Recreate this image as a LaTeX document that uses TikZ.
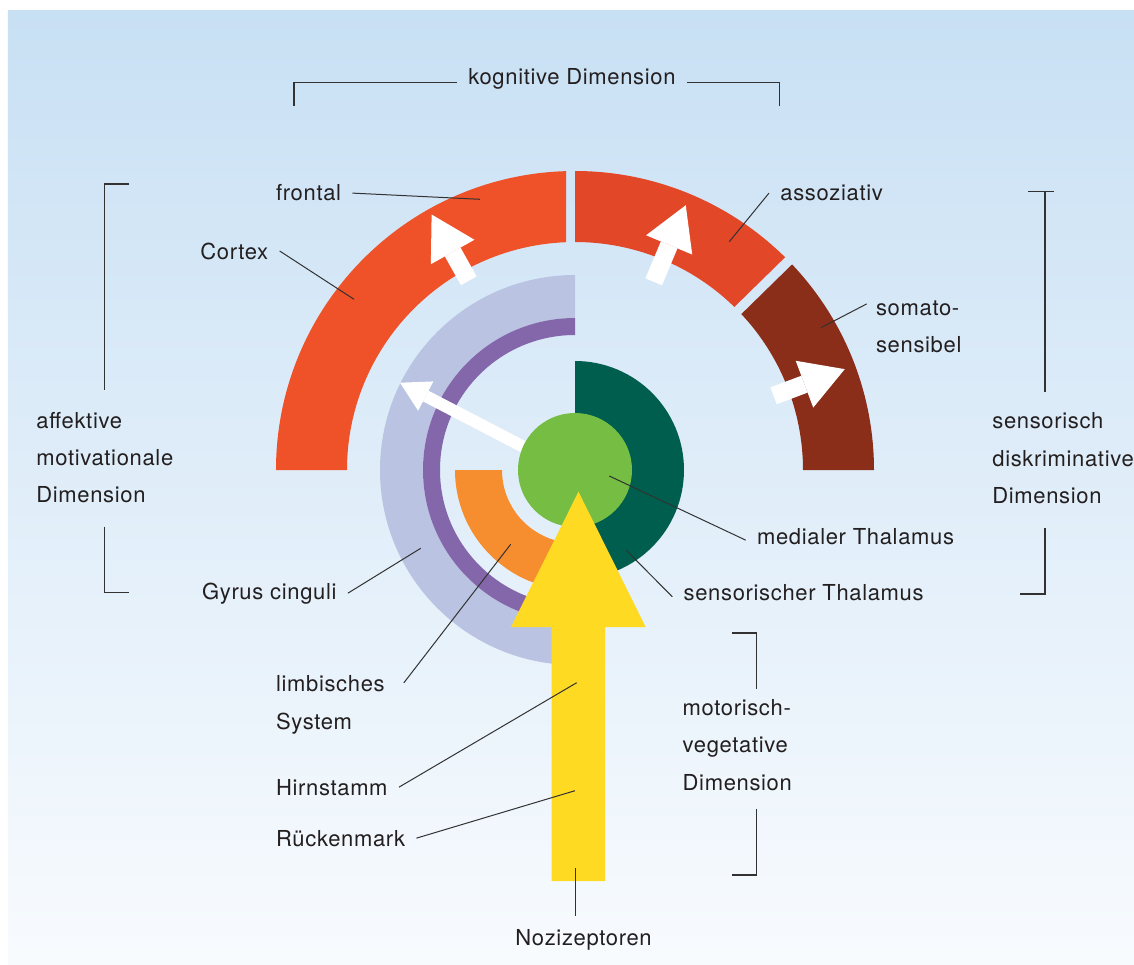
\documentclass[tikz,border=0pt]{standalone}
\usepackage{fontspec}
\setmainfont[LetterSpace=3]{TeX Gyre Heros}
\usetikzlibrary{arrows.meta}
\usetikzlibrary{calc}

\definecolor{bgtop}{RGB}{200,224,244}
\definecolor{bgbot}{RGB}{248,251,254}
\definecolor{frontred}{RGB}{239,81,40}
\definecolor{assored}{RGB}{226,71,39}
\definecolor{somabrown}{RGB}{139,46,25}
\definecolor{gyruslav}{RGB}{186,196,226}
\definecolor{limbpurple}{RGB}{132,102,170}
\definecolor{limborange}{RGB}{246,141,46}
\definecolor{medgreen}{RGB}{118,190,67}
\definecolor{sensgreen}{RGB}{0,94,78}
\definecolor{nozyellow}{RGB}{255,218,34}
\definecolor{txt}{RGB}{35,31,32}
\definecolor{linegray}{RGB}{50,50,50}

\begin{document}
\begin{tikzpicture}[x=0.5pt,y=0.5pt,
lbl/.style={font=\fontsize{11}{18.65}\selectfont,text=txt,inner xsep=5.5pt,inner ysep=0pt,anchor=base west},
lead/.style={draw=linegray,line width=0.5pt},
brk/.style={draw=linegray,line width=0.6pt},
whitearrow/.style={white,line width=9pt,-{Triangle[width=25pt,length=21.5pt,line width=0pt]}}]
\useasboundingbox(-575,-494)rectangle(559,470);
\fill[white](-575,-494)rectangle(559,470);
\fill[top color=bgtop,bottom color=bgbot](-567,-494)rectangle(559,459);

%Cortex
\fill[frontred](180:299)arc[start angle=180,end angle={acos(-9/299)},radius=299]
--({acos(-9/228)}:228)arc[start angle={acos(-9/228)},end angle=180,radius=228]--cycle;
\fill[assored](90:299)arc[start angle=90,end angle=45.36,radius=299]
--(45.65:228)arc[start angle=45.65,end angle=90,radius=228]--cycle;
\fill[somabrown](43.44:299)arc[start angle=43.44,end angle=0,radius=299]
--(0:228)arc[start angle=0,end angle=43.15,radius=228]--cycle;
\foreach \a/\r/\R in {119.3/217/293,67.3/204/287,20.5/212/288}
\draw[whitearrow](\a:\r)--(\a:\R);

%limbic system
\fill[gyruslav](90:195)arc[start angle=90,end angle=270,radius=195]
--(270:152)arc[start angle=270,end angle=90,radius=152]--cycle;
\fill[limbpurple](90:152)arc[start angle=90,end angle=270,radius=152]
--(270:135)arc[start angle=270,end angle=90,radius=135]--cycle;
\fill[limborange](180:120)arc[start angle=180,end angle=270,radius=120]
--(270:73)arc[start angle=270,end angle=180,radius=73]--cycle;
\draw[whitearrow,line width=6pt,-{Triangle[width=16.5pt,length=14.5pt,line width=0pt]}]
(-30,12)--(-175,87.3);

%Thalamus
\fill[sensgreen](90:109)arc[start angle=90,end angle=-90,radius=109]--cycle;
\node[circle,fill=medgreen,minimum size=57pt,inner sep=0pt](medial)at(0,0){};

%Nozizeptoren
\fill[nozyellow](3.5,-21.7)--(70.7,-157)--(30,-157)--(30,-411)
--(-23.3,-411)--(-23.3,-157)--(-64,-157)--cycle;

\coordinate(cFront)at(-95,270.7);
\coordinate(cCortex)at(-221,170.7);
\coordinate(cAsso)at(154.3,228.3);
\coordinate(cSoma)at(246,142.3);
\coordinate(cMed)at(34.3,-6);
\coordinate(cSens)at(51,-80);
\coordinate(cGyrus)at(-154.3,-78.3);
\coordinate(cLimb)at(-64.3,-74.3);
\coordinate(cHirn)at(1.7,-212.7);
\coordinate(cRueck)at(0,-320.7);
\coordinate(cNozi)at(0,-398);

%labels
\node[lbl](kog)at(-118,385){kognitive Dimension};
\node[lbl](frontal)at(-310.3,269){frontal};
\node[lbl](cortex)at(-386,211){Cortex};
\node[lbl](asso)at(194,269.3){assoziativ};
\node[lbl,align=left](soma)at(289.7,117.7){somato-\\sensibel};
\node[lbl,align=left](affekt)at(-550,-32.7){affektive\\motivationale\\Dimension};
\node[lbl,align=left](senso)at(406,-33.3){sensorisch\\diskriminative\\Dimension};
\node[lbl](medtxt)at(170.7,-74){medialer Thalamus};
\node[lbl](senstxt)at(97.3,-130){sensorischer Thalamus};
\node[lbl](gyrus)at(-384.3,-129){Gyrus cinguli};
\node[lbl,align=left](limb)at(-310.3,-259){limbisches\\System};
\node[lbl,align=left](motor)at(96.3,-320){motorisch-\\vegetative\\Dimension};
\node[lbl](hirn)at(-310.3,-325){Hirnstamm};
\node[lbl](ruecken)at(-310.3,-376){Rückenmark};
\node[lbl](nozi)at(-71,-475){Nozizeptoren};

%leaders
\draw[lead](frontal.east)--(cFront);
\draw[lead](cortex.east)--(cCortex);
\draw[lead](asso.west)--(cAsso);
\draw[lead]($(soma.north west)+(2,-4)$)--(cSoma);
\draw[lead]([yshift=-2pt]medtxt.west)--(cMed);
\draw[lead]([yshift=-2.3pt]senstxt.west)--(cSens);
\draw[lead](gyrus.east)--(cGyrus);
\draw[lead]($(limb.north east)+(7.7,-7.6)$)--(cLimb);
\draw[lead](hirn.east)--(cHirn);
\draw[lead](ruecken.east)--(cRueck);
\draw[lead]($(nozi.north -| cNozi)+(0,13)$)--(cNozi);

%%brackets
\draw[brk]([yshift=-1.5pt]kog.west)-|(-281,364);
\draw[brk]([yshift=-1.5pt]kog.east)-|(204.5,364);
\draw[brk](-445.7,286)-|(-470.7,80);
\draw[brk](-470.7,-56.7)|-(-445.7,-122.7);
\draw[brk](453.3,278.3)--(479,278.3)(470,278.3)--(470,78.3);
\draw[brk](470,-58)|-(445,-124);
\draw[brk](156.7,-163)-|(181.7,-219.3);
\draw[brk](181.7,-339.3)|-(156.7,-405);
\end{tikzpicture}
\end{document}
